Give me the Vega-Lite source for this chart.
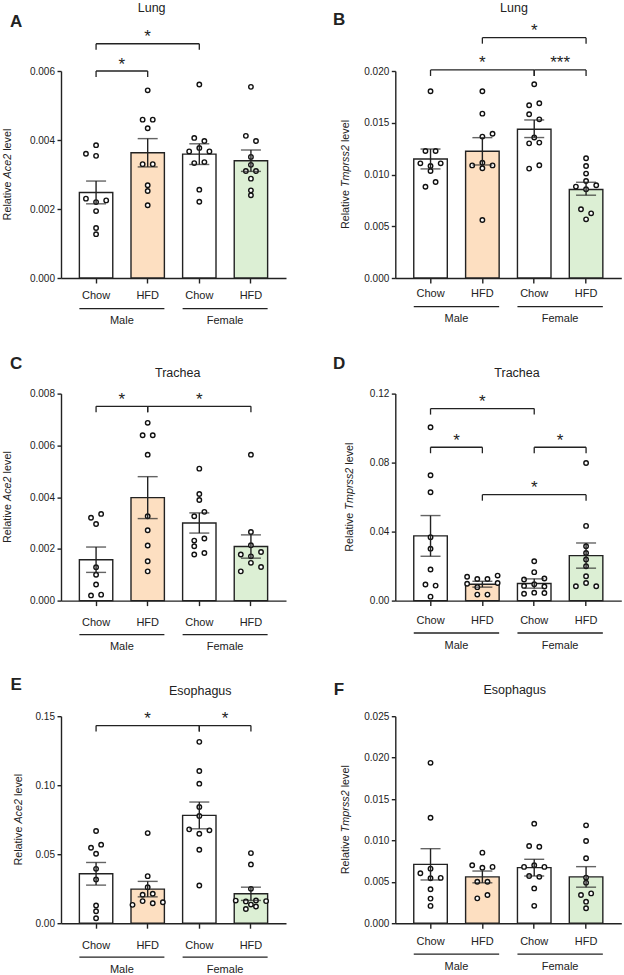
{
"$schema": "https://vega.github.io/schema/vega-lite/v6.json",
"background": "white",
"padding": {"left": 2, "top": 2, "right": 2, "bottom": 2},
"config": {
  "font": "Liberation Sans",
  "view": {"stroke": null},
  "axis": {"domainColor": "#222", "domainWidth": 1.4, "tickColor": "#222", "tickWidth": 1.4, "labelColor": "#222", "labelFont": "Liberation Sans", "grid": false},
  "axisY": {"tickSize": 4, "labelPadding": 2.5, "labelFontSize": 10},
  "axisX": {"tickSize": 5, "labelFontSize": 11, "labelAngle": 0, "labelExpr": "split(datum.label,'-')[1]"},
  "text": {"color": "#222", "font": "Liberation Sans"}
},
"datasets": {
  "labels": [
    {"p": "A", "letter": "A", "organ": "Lung", "gene": "Ace2"},
    {"p": "B", "letter": "B", "organ": "Lung", "gene": "Tmprss2"},
    {"p": "C", "letter": "C", "organ": "Trachea", "gene": "Ace2"},
    {"p": "D", "letter": "D", "organ": "Trachea", "gene": "Tmprss2"},
    {"p": "E", "letter": "E", "organ": "Esophagus", "gene": "Ace2"},
    {"p": "F", "letter": "F", "organ": "Esophagus", "gene": "Tmprss2"}
  ],
  "grp": [
    {"sex": "Male", "from": "M-Chow", "to": "M-HFD"},
    {"sex": "Female", "from": "F-Chow", "to": "F-HFD"}
  ],
  "sum": [
    {"p": "A", "g": "M-Chow", "mean": 0.00248, "lo": 0.00215, "hi": 0.00281},
    {"p": "A", "g": "M-HFD", "mean": 0.00363, "lo": 0.00322, "hi": 0.00404},
    {"p": "A", "g": "F-Chow", "mean": 0.00359, "lo": 0.00329, "hi": 0.00389},
    {"p": "A", "g": "F-HFD", "mean": 0.0034, "lo": 0.00309, "hi": 0.00371},
    {"p": "B", "g": "M-Chow", "mean": 0.0115, "lo": 0.01054, "hi": 0.01246},
    {"p": "B", "g": "M-HFD", "mean": 0.01224, "lo": 0.01092, "hi": 0.01356},
    {"p": "B", "g": "F-Chow", "mean": 0.01437, "lo": 0.01357, "hi": 0.01527},
    {"p": "B", "g": "F-HFD", "mean": 0.00855, "lo": 0.008, "hi": 0.00925},
    {"p": "C", "g": "M-Chow", "mean": 0.00158, "lo": 0.00109, "hi": 0.00207},
    {"p": "C", "g": "M-HFD", "mean": 0.00398, "lo": 0.00317, "hi": 0.00479},
    {"p": "C", "g": "F-Chow", "mean": 0.003, "lo": 0.00261, "hi": 0.00339},
    {"p": "C", "g": "F-HFD", "mean": 0.00209, "lo": 0.00164, "hi": 0.00254},
    {"p": "D", "g": "M-Chow", "mean": 0.0375, "lo": 0.0257, "hi": 0.0493},
    {"p": "D", "g": "M-HFD", "mean": 0.0095, "lo": 0.0078, "hi": 0.0112},
    {"p": "D", "g": "F-Chow", "mean": 0.0099, "lo": 0.0072, "hi": 0.0126},
    {"p": "D", "g": "F-HFD", "mean": 0.0261, "lo": 0.0188, "hi": 0.0334},
    {"p": "E", "g": "M-Chow", "mean": 0.0358, "lo": 0.0276, "hi": 0.044},
    {"p": "E", "g": "M-HFD", "mean": 0.0247, "lo": 0.0191, "hi": 0.0303},
    {"p": "E", "g": "F-Chow", "mean": 0.0781, "lo": 0.0684, "hi": 0.0878},
    {"p": "E", "g": "F-HFD", "mean": 0.0213, "lo": 0.0165, "hi": 0.0261},
    {"p": "F", "g": "M-Chow", "mean": 0.00711, "lo": 0.00522, "hi": 0.009},
    {"p": "F", "g": "M-HFD", "mean": 0.00559, "lo": 0.00488, "hi": 0.0063},
    {"p": "F", "g": "F-Chow", "mean": 0.00671, "lo": 0.0057, "hi": 0.00772},
    {"p": "F", "g": "F-HFD", "mean": 0.00559, "lo": 0.00435, "hi": 0.00683}
  ],
  "br": [
    {"p": "A", "from": "M-Chow", "to": "M-HFD", "y": 0.006, "lab": "*", "span": 1},
    {"p": "A", "from": "M-Chow", "to": "F-Chow", "y": 0.00679, "lab": "*", "span": 2},
    {"p": "B", "from": "M-Chow", "to": "F-Chow", "y": 0.0201, "lab": "*", "span": 2},
    {"p": "B", "from": "F-Chow", "to": "F-HFD", "y": 0.0201, "lab": "***", "span": 1},
    {"p": "B", "from": "M-HFD", "to": "F-HFD", "y": 0.02322, "lab": "*", "span": 2},
    {"p": "C", "from": "M-Chow", "to": "M-HFD", "y": 0.00751, "lab": "*", "span": 1},
    {"p": "C", "from": "M-HFD", "to": "F-HFD", "y": 0.00751, "lab": "*", "span": 2},
    {"p": "D", "from": "M-Chow", "to": "F-Chow", "y": 0.1113, "lab": "*", "span": 2},
    {"p": "D", "from": "M-Chow", "to": "M-HFD", "y": 0.0889, "lab": "*", "span": 1},
    {"p": "D", "from": "F-Chow", "to": "F-HFD", "y": 0.0889, "lab": "*", "span": 1},
    {"p": "D", "from": "M-HFD", "to": "F-HFD", "y": 0.0614, "lab": "*", "span": 2},
    {"p": "E", "from": "M-Chow", "to": "F-Chow", "y": 0.1432, "lab": "*", "span": 2},
    {"p": "E", "from": "F-Chow", "to": "F-HFD", "y": 0.1432, "lab": "*", "span": 1}
  ],
  "pts": [
    {"p":"A","g":"M-Chow","v":0.00385,"s":0},{"p":"A","g":"M-Chow","v":0.0036,"s":-2},{"p":"A","g":"M-Chow","v":0.00354,"s":0},{"p":"A","g":"M-Chow","v":0.0023,"s":-2},{"p":"A","g":"M-Chow","v":0.0022,"s":0},{"p":"A","g":"M-Chow","v":0.00225,"s":2},{"p":"A","g":"M-Chow","v":0.00194,"s":0},{"p":"A","g":"M-Chow","v":0.00145,"s":0},{"p":"A","g":"M-Chow","v":0.00127,"s":0},
    {"p":"A","g":"M-HFD","v":0.00544,"s":0},{"p":"A","g":"M-HFD","v":0.00459,"s":-1},{"p":"A","g":"M-HFD","v":0.00459,"s":1},{"p":"A","g":"M-HFD","v":0.00434,"s":0},{"p":"A","g":"M-HFD","v":0.0033,"s":-1},{"p":"A","g":"M-HFD","v":0.0033,"s":1},{"p":"A","g":"M-HFD","v":0.00269,"s":0},{"p":"A","g":"M-HFD","v":0.00252,"s":0},{"p":"A","g":"M-HFD","v":0.00211,"s":0},
    {"p":"A","g":"F-Chow","v":0.00561,"s":0},{"p":"A","g":"F-Chow","v":0.00406,"s":-1},{"p":"A","g":"F-Chow","v":0.00397,"s":1},{"p":"A","g":"F-Chow","v":0.00377,"s":0},{"p":"A","g":"F-Chow","v":0.00367,"s":-2},{"p":"A","g":"F-Chow","v":0.00367,"s":2},{"p":"A","g":"F-Chow","v":0.00333,"s":-1},{"p":"A","g":"F-Chow","v":0.00336,"s":1},{"p":"A","g":"F-Chow","v":0.00256,"s":0},{"p":"A","g":"F-Chow","v":0.00221,"s":0},
    {"p":"A","g":"F-HFD","v":0.00554,"s":0},{"p":"A","g":"F-HFD","v":0.00412,"s":-1},{"p":"A","g":"F-HFD","v":0.00397,"s":1},{"p":"A","g":"F-HFD","v":0.00351,"s":0},{"p":"A","g":"F-HFD","v":0.00328,"s":0},{"p":"A","g":"F-HFD","v":0.0031,"s":-1},{"p":"A","g":"F-HFD","v":0.0031,"s":1},{"p":"A","g":"F-HFD","v":0.00288,"s":0},{"p":"A","g":"F-HFD","v":0.00254,"s":0},{"p":"A","g":"F-HFD","v":0.0024,"s":0},
    {"p":"B","g":"M-Chow","v":0.01804,"s":0},{"p":"B","g":"M-Chow","v":0.01227,"s":-1},{"p":"B","g":"M-Chow","v":0.01227,"s":1},{"p":"B","g":"M-Chow","v":0.01108,"s":-2},{"p":"B","g":"M-Chow","v":0.01082,"s":0},{"p":"B","g":"M-Chow","v":0.01108,"s":2},{"p":"B","g":"M-Chow","v":0.01034,"s":0},{"p":"B","g":"M-Chow","v":0.00882,"s":-1},{"p":"B","g":"M-Chow","v":0.00928,"s":1},
    {"p":"B","g":"M-HFD","v":0.01804,"s":0},{"p":"B","g":"M-HFD","v":0.01588,"s":0},{"p":"B","g":"M-HFD","v":0.01366,"s":0},{"p":"B","g":"M-HFD","v":0.01394,"s":2},{"p":"B","g":"M-HFD","v":0.01088,"s":-2},{"p":"B","g":"M-HFD","v":0.01114,"s":0},{"p":"B","g":"M-HFD","v":0.01088,"s":2},{"p":"B","g":"M-HFD","v":0.0106,"s":0},{"p":"B","g":"M-HFD","v":0.0056,"s":0},
    {"p":"B","g":"F-Chow","v":0.01872,"s":0},{"p":"B","g":"F-Chow","v":0.01669,"s":-1},{"p":"B","g":"F-Chow","v":0.01688,"s":1},{"p":"B","g":"F-Chow","v":0.01582,"s":-1},{"p":"B","g":"F-Chow","v":0.01533,"s":1},{"p":"B","g":"F-Chow","v":0.01357,"s":0},{"p":"B","g":"F-Chow","v":0.01301,"s":-1},{"p":"B","g":"F-Chow","v":0.01308,"s":1},{"p":"B","g":"F-Chow","v":0.01057,"s":-1},{"p":"B","g":"F-Chow","v":0.01089,"s":1},
    {"p":"B","g":"F-HFD","v":0.01157,"s":0},{"p":"B","g":"F-HFD","v":0.01082,"s":0},{"p":"B","g":"F-HFD","v":0.01009,"s":0},{"p":"B","g":"F-HFD","v":0.00937,"s":0},{"p":"B","g":"F-HFD","v":0.00883,"s":-2},{"p":"B","g":"F-HFD","v":0.00857,"s":0},{"p":"B","g":"F-HFD","v":0.00896,"s":2},{"p":"B","g":"F-HFD","v":0.00664,"s":-1},{"p":"B","g":"F-HFD","v":0.00625,"s":1},{"p":"B","g":"F-HFD","v":0.00567,"s":0},
    {"p":"C","g":"M-Chow","v":0.0032,"s":-1},{"p":"C","g":"M-Chow","v":0.00335,"s":1},{"p":"C","g":"M-Chow","v":0.00296,"s":0},{"p":"C","g":"M-Chow","v":0.00129,"s":0},{"p":"C","g":"M-Chow","v":0.001,"s":0},{"p":"C","g":"M-Chow","v":0.00062,"s":0},{"p":"C","g":"M-Chow","v":0.0002,"s":-1},{"p":"C","g":"M-Chow","v":0.00023,"s":1},
    {"p":"C","g":"M-HFD","v":0.00687,"s":0},{"p":"C","g":"M-HFD","v":0.00639,"s":-1},{"p":"C","g":"M-HFD","v":0.00639,"s":1},{"p":"C","g":"M-HFD","v":0.00564,"s":0},{"p":"C","g":"M-HFD","v":0.00326,"s":0},{"p":"C","g":"M-HFD","v":0.00272,"s":0},{"p":"C","g":"M-HFD","v":0.00213,"s":0},{"p":"C","g":"M-HFD","v":0.00152,"s":0},{"p":"C","g":"M-HFD","v":0.00113,"s":0},
    {"p":"C","g":"F-Chow","v":0.0051,"s":0},{"p":"C","g":"F-Chow","v":0.00412,"s":0},{"p":"C","g":"F-Chow","v":0.00389,"s":0},{"p":"C","g":"F-Chow","v":0.00326,"s":-1},{"p":"C","g":"F-Chow","v":0.00343,"s":1},{"p":"C","g":"F-Chow","v":0.00232,"s":-1},{"p":"C","g":"F-Chow","v":0.0024,"s":1},{"p":"C","g":"F-Chow","v":0.0021,"s":-1},{"p":"C","g":"F-Chow","v":0.00178,"s":-1},{"p":"C","g":"F-Chow","v":0.00184,"s":1},
    {"p":"C","g":"F-HFD","v":0.00564,"s":0},{"p":"C","g":"F-HFD","v":0.00265,"s":0},{"p":"C","g":"F-HFD","v":0.00214,"s":0},{"p":"C","g":"F-HFD","v":0.00178,"s":-2},{"p":"C","g":"F-HFD","v":0.00171,"s":0},{"p":"C","g":"F-HFD","v":0.00188,"s":2},{"p":"C","g":"F-HFD","v":0.00146,"s":0},{"p":"C","g":"F-HFD","v":0.00113,"s":-2},{"p":"C","g":"F-HFD","v":0.0013,"s":2},
    {"p":"D","g":"M-Chow","v":0.1005,"s":0},{"p":"D","g":"M-Chow","v":0.0727,"s":0},{"p":"D","g":"M-Chow","v":0.0628,"s":0},{"p":"D","g":"M-Chow","v":0.0367,"s":0},{"p":"D","g":"M-Chow","v":0.0301,"s":0},{"p":"D","g":"M-Chow","v":0.018,"s":0},{"p":"D","g":"M-Chow","v":0.0093,"s":-1},{"p":"D","g":"M-Chow","v":0.0087,"s":1},{"p":"D","g":"M-Chow","v":0.0023,"s":0},
    {"p":"D","g":"M-HFD","v":0.0138,"s":-3},{"p":"D","g":"M-HFD","v":0.0125,"s":-1},{"p":"D","g":"M-HFD","v":0.0125,"s":1},{"p":"D","g":"M-HFD","v":0.0145,"s":3},{"p":"D","g":"M-HFD","v":0.0098,"s":-3},{"p":"D","g":"M-HFD","v":0.0102,"s":3},{"p":"D","g":"M-HFD","v":0.0078,"s":-1},{"p":"D","g":"M-HFD","v":0.0035,"s":-1},{"p":"D","g":"M-HFD","v":0.0035,"s":1},
    {"p":"D","g":"F-Chow","v":0.0228,"s":0},{"p":"D","g":"F-Chow","v":0.0165,"s":0},{"p":"D","g":"F-Chow","v":0.0122,"s":-2},{"p":"D","g":"F-Chow","v":0.0128,"s":2},{"p":"D","g":"F-Chow","v":0.0095,"s":0},{"p":"D","g":"F-Chow","v":0.0085,"s":-2},{"p":"D","g":"F-Chow","v":0.0082,"s":2},{"p":"D","g":"F-Chow","v":0.004,"s":-2},{"p":"D","g":"F-Chow","v":0.0046,"s":0},{"p":"D","g":"F-Chow","v":0.0044,"s":2},
    {"p":"D","g":"F-HFD","v":0.0798,"s":0},{"p":"D","g":"F-HFD","v":0.0433,"s":0},{"p":"D","g":"F-HFD","v":0.0315,"s":0},{"p":"D","g":"F-HFD","v":0.0276,"s":0},{"p":"D","g":"F-HFD","v":0.0238,"s":0},{"p":"D","g":"F-HFD","v":0.0199,"s":0},{"p":"D","g":"F-HFD","v":0.0141,"s":0},{"p":"D","g":"F-HFD","v":0.0102,"s":0},{"p":"D","g":"F-HFD","v":0.0083,"s":-2},{"p":"D","g":"F-HFD","v":0.0083,"s":2},
    {"p":"E","g":"M-Chow","v":0.0668,"s":0},{"p":"E","g":"M-Chow","v":0.0547,"s":-1},{"p":"E","g":"M-Chow","v":0.0569,"s":1},{"p":"E","g":"M-Chow","v":0.0503,"s":0},{"p":"E","g":"M-Chow","v":0.0394,"s":0},{"p":"E","g":"M-Chow","v":0.0317,"s":0},{"p":"E","g":"M-Chow","v":0.0128,"s":0},{"p":"E","g":"M-Chow","v":0.0087,"s":0},{"p":"E","g":"M-Chow","v":0.0036,"s":0},
    {"p":"E","g":"M-HFD","v":0.0653,"s":0},{"p":"E","g":"M-HFD","v":0.0341,"s":0},{"p":"E","g":"M-HFD","v":0.0261,"s":0},{"p":"E","g":"M-HFD","v":0.0206,"s":-1},{"p":"E","g":"M-HFD","v":0.0213,"s":1},{"p":"E","g":"M-HFD","v":0.0133,"s":-3},{"p":"E","g":"M-HFD","v":0.016,"s":-1},{"p":"E","g":"M-HFD","v":0.0145,"s":1},{"p":"E","g":"M-HFD","v":0.0152,"s":3},
    {"p":"E","g":"F-Chow","v":0.1314,"s":0},{"p":"E","g":"F-Chow","v":0.1103,"s":0},{"p":"E","g":"F-Chow","v":0.1011,"s":0},{"p":"E","g":"F-Chow","v":0.0842,"s":0},{"p":"E","g":"F-Chow","v":0.0777,"s":0},{"p":"E","g":"F-Chow","v":0.068,"s":-2},{"p":"E","g":"F-Chow","v":0.0673,"s":2},{"p":"E","g":"F-Chow","v":0.0648,"s":0},{"p":"E","g":"F-Chow","v":0.0532,"s":0},{"p":"E","g":"F-Chow","v":0.0273,"s":0},
    {"p":"E","g":"F-HFD","v":0.0508,"s":0},{"p":"E","g":"F-HFD","v":0.0426,"s":0},{"p":"E","g":"F-HFD","v":0.0249,"s":0},{"p":"E","g":"F-HFD","v":0.0164,"s":-3},{"p":"E","g":"F-HFD","v":0.0158,"s":-1},{"p":"E","g":"F-HFD","v":0.0165,"s":1},{"p":"E","g":"F-HFD","v":0.016,"s":3},{"p":"E","g":"F-HFD","v":0.0135,"s":0},{"p":"E","g":"F-HFD","v":0.0103,"s":-1},{"p":"E","g":"F-HFD","v":0.0121,"s":1},
    {"p":"F","g":"M-Chow","v":0.01937,"s":0},{"p":"F","g":"M-Chow","v":0.01274,"s":0},{"p":"F","g":"M-Chow","v":0.00603,"s":-2},{"p":"F","g":"M-Chow","v":0.00659,"s":0},{"p":"F","g":"M-Chow","v":0.00543,"s":0},{"p":"F","g":"M-Chow","v":0.00547,"s":2},{"p":"F","g":"M-Chow","v":0.0041,"s":0},{"p":"F","g":"M-Chow","v":0.00297,"s":0},{"p":"F","g":"M-Chow","v":0.00209,"s":0},
    {"p":"F","g":"M-HFD","v":0.00852,"s":0},{"p":"F","g":"M-HFD","v":0.007,"s":-2},{"p":"F","g":"M-HFD","v":0.0067,"s":0},{"p":"F","g":"M-HFD","v":0.0068,"s":2},{"p":"F","g":"M-HFD","v":0.005,"s":-1},{"p":"F","g":"M-HFD","v":0.005,"s":1},{"p":"F","g":"M-HFD","v":0.003,"s":-1},{"p":"F","g":"M-HFD","v":0.0034,"s":1},
    {"p":"F","g":"F-Chow","v":0.01202,"s":0},{"p":"F","g":"F-Chow","v":0.00932,"s":-1},{"p":"F","g":"F-Chow","v":0.00924,"s":1},{"p":"F","g":"F-Chow","v":0.0068,"s":-2},{"p":"F","g":"F-Chow","v":0.007,"s":0},{"p":"F","g":"F-Chow","v":0.0068,"s":2},{"p":"F","g":"F-Chow","v":0.0057,"s":-1},{"p":"F","g":"F-Chow","v":0.0056,"s":1},{"p":"F","g":"F-Chow","v":0.0042,"s":0},{"p":"F","g":"F-Chow","v":0.0021,"s":0},
    {"p":"F","g":"F-HFD","v":0.01182,"s":0},{"p":"F","g":"F-HFD","v":0.00993,"s":0},{"p":"F","g":"F-HFD","v":0.00784,"s":0},{"p":"F","g":"F-HFD","v":0.00551,"s":0},{"p":"F","g":"F-HFD","v":0.0049,"s":0},{"p":"F","g":"F-HFD","v":0.0034,"s":-1},{"p":"F","g":"F-HFD","v":0.0036,"s":1},{"p":"F","g":"F-HFD","v":0.0026,"s":0},{"p":"F","g":"F-HFD","v":0.0018,"s":0}
  ]
},
"columns": 2,
"bounds": "flush",
"spacing": {"row": 115.6, "column": 109.3},
"concat": [
{
 "width": 225, "height": 207,
 "resolve": {"scale": {"xOffset": "independent"}},
 "layer": [
  {"data": {"name": "sum"}, "transform": [{"filter": "datum.p == 'A'"}],
   "mark": {"type": "bar", "stroke": "#222", "strokeWidth": 1.4},
   "encoding": {
     "x": {"field": "g", "type": "nominal", "scale": {"domain": ["M-Chow","M-HFD","F-Chow","F-HFD"], "paddingInner": 0.353, "paddingOuter": 0.356}, "axis": {"title": null, "labelPadding": 6.9}},
     "y": {"field": "mean", "type": "quantitative", "scale": {"domain": [0, 0.006], "nice": false}, "axis": {"title": null, "values": [0, 0.002, 0.004, 0.006], "format": ".3f"}},
     "fill": {"field": "g", "type": "nominal", "scale": {"domain": ["M-Chow","M-HFD","F-Chow","F-HFD"], "range": ["#ffffff","#fddfc1","#ffffff","#dcefd4"]}, "legend": null}
   }},
  {"data": {"name": "pts"}, "transform": [{"filter": "datum.p == 'A'"}],
   "mark": {"type": "point", "shape": "circle", "filled": true, "fill": "#ffffff", "stroke": "#111", "strokeWidth": 1.4, "size": 20, "opacity": 1},
   "encoding": {"x": {"field": "g", "type": "nominal"}, "xOffset": {"field": "s", "type": "quantitative", "scale": {"domain": [-3.3, 3.3]}}, "y": {"field": "v", "type": "quantitative"}}},
  {"data": {"name": "sum"}, "transform": [{"filter": "datum.p == 'A'"}],
   "mark": {"type": "rule", "stroke": "#222", "strokeWidth": 1.4},
   "encoding": {"x": {"field": "g", "type": "nominal"}, "y": {"field": "lo", "type": "quantitative"}, "y2": {"field": "hi"}}},
  {"data": {"name": "sum"}, "transform": [{"filter": "datum.p == 'A'"}],
   "mark": {"type": "tick", "color": "#222", "size": 20, "thickness": 1.4},
   "encoding": {"x": {"field": "g", "type": "nominal"}, "y": {"field": "hi", "type": "quantitative"}}},
  {"data": {"name": "sum"}, "transform": [{"filter": "datum.p == 'A'"}],
   "mark": {"type": "tick", "color": "#222", "size": 20, "thickness": 1.4},
   "encoding": {"x": {"field": "g", "type": "nominal"}, "y": {"field": "lo", "type": "quantitative"}}},
  {"data": {"name": "br"}, "transform": [{"filter": "datum.p == 'A'"}],
   "mark": {"type": "rule", "stroke": "#222", "strokeWidth": 1.3},
   "encoding": {"x": {"field": "from", "type": "nominal"}, "x2": {"field": "to"}, "y": {"field": "y", "type": "quantitative"}}},
  {"data": {"name": "br"}, "transform": [{"filter": "datum.p == 'A'"}],
   "mark": {"type": "rule", "stroke": "#222", "strokeWidth": 1.3, "y2Offset": 6},
   "encoding": {"x": {"field": "from", "type": "nominal"}, "y": {"field": "y", "type": "quantitative"}, "y2": {"field": "y"}}},
  {"data": {"name": "br"}, "transform": [{"filter": "datum.p == 'A'"}],
   "mark": {"type": "rule", "stroke": "#222", "strokeWidth": 1.3, "y2Offset": 6},
   "encoding": {"x": {"field": "to", "type": "nominal"}, "y": {"field": "y", "type": "quantitative"}, "y2": {"field": "y"}}},
  {"data": {"name": "br"}, "transform": [{"filter": "datum.p == 'A'"}],
   "mark": {"type": "text", "fontSize": 17, "baseline": "alphabetic", "align": "center", "yOffset": -1.5},
   "encoding": {"x": {"field": "from", "type": "nominal"}, "xOffset": {"field": "span", "type": "quantitative", "scale": {"domain": [0, 3], "range": [16.7, 94.1]}}, "y": {"field": "y", "type": "quantitative"}, "text": {"field": "lab"}}},
  {"data": {"name": "grp"},
   "mark": {"type": "rule", "stroke": "#222", "strokeWidth": 1.3, "yOffset": 30.6},
   "encoding": {"x": {"field": "from", "type": "nominal", "bandPosition": 0}, "x2": {"field": "to", "bandPosition": 1}, "y": {"datum": 0, "type": "quantitative"}}},
  {"data": {"name": "grp"},
   "mark": {"type": "text", "fontSize": 11, "baseline": "middle", "align": "center", "xOffset": 25.8, "yOffset": 43},
   "encoding": {"x": {"field": "from", "type": "nominal"}, "y": {"datum": 0, "type": "quantitative"}, "text": {"field": "sex"}}},
  {"data": {"name": "labels"}, "transform": [{"filter": "datum.p == 'A'"}],
   "mark": {"type": "text", "fontSize": 17, "fontWeight": "bold", "baseline": "middle", "align": "center", "xOffset": -80, "yOffset": -49},
   "encoding": {"x": {"datum": "M-Chow", "type": "nominal"}, "y": {"datum": 0.006, "type": "quantitative"}, "text": {"field": "letter"}}},
  {"data": {"name": "labels"}, "transform": [{"filter": "datum.p == 'A'"}],
   "mark": {"type": "text", "fontSize": 12.5, "baseline": "middle", "align": "center", "xOffset": 55.6, "yOffset": -63},
   "encoding": {"x": {"datum": "M-Chow", "type": "nominal"}, "y": {"datum": 0.006, "type": "quantitative"}, "text": {"field": "organ"}}},
  {"data": {"name": "labels"}, "transform": [{"filter": "datum.p == 'A'"}],
   "mark": {"type": "text", "fontSize": 10.8, "angle": 270, "baseline": "middle", "align": "left", "xOffset": -87.8, "yOffset": 45.9, "text": "Relative"},
   "encoding": {"x": {"datum": "M-Chow", "type": "nominal"}, "y": {"datum": 0.003, "type": "quantitative"}}},
  {"data": {"name": "labels"}, "transform": [{"filter": "datum.p == 'A'"}],
   "mark": {"type": "text", "fontSize": 10.8, "fontStyle": "italic", "angle": 270, "baseline": "middle", "align": "left", "xOffset": -87.8, "yOffset": 3.9},
   "encoding": {"x": {"datum": "M-Chow", "type": "nominal"}, "y": {"datum": 0.003, "type": "quantitative"}, "text": {"field": "gene"}}},
  {"data": {"name": "labels"}, "transform": [{"filter": "datum.p == 'A'"}],
   "mark": {"type": "text", "fontSize": 10.8, "angle": 270, "baseline": "middle", "align": "left", "xOffset": -87.8, "yOffset": -23.7, "text": "level"},
   "encoding": {"x": {"datum": "M-Chow", "type": "nominal"}, "y": {"datum": 0.003, "type": "quantitative"}}}
 ]
},
{
 "width": 226, "height": 207,
 "resolve": {"scale": {"xOffset": "independent"}},
 "layer": [
  {"data": {"name": "sum"}, "transform": [{"filter": "datum.p == 'B'"}],
   "mark": {"type": "bar", "stroke": "#222", "strokeWidth": 1.4},
   "encoding": {
     "x": {"field": "g", "type": "nominal", "scale": {"domain": ["M-Chow","M-HFD","F-Chow","F-HFD"], "paddingInner": 0.353, "paddingOuter": 0.356}, "axis": {"title": null, "labelPadding": 4.9}},
     "y": {"field": "mean", "type": "quantitative", "scale": {"domain": [0, 0.02], "nice": false}, "axis": {"title": null, "values": [0, 0.005, 0.01, 0.015, 0.02], "format": ".3f"}},
     "fill": {"field": "g", "type": "nominal", "scale": {"domain": ["M-Chow","M-HFD","F-Chow","F-HFD"], "range": ["#ffffff","#fddfc1","#ffffff","#dcefd4"]}, "legend": null}
   }},
  {"data": {"name": "pts"}, "transform": [{"filter": "datum.p == 'B'"}],
   "mark": {"type": "point", "shape": "circle", "filled": true, "fill": "#ffffff", "stroke": "#111", "strokeWidth": 1.4, "size": 20, "opacity": 1},
   "encoding": {"x": {"field": "g", "type": "nominal"}, "xOffset": {"field": "s", "type": "quantitative", "scale": {"domain": [-3.3, 3.3]}}, "y": {"field": "v", "type": "quantitative"}}},
  {"data": {"name": "sum"}, "transform": [{"filter": "datum.p == 'B'"}],
   "mark": {"type": "rule", "stroke": "#222", "strokeWidth": 1.4},
   "encoding": {"x": {"field": "g", "type": "nominal"}, "y": {"field": "lo", "type": "quantitative"}, "y2": {"field": "hi"}}},
  {"data": {"name": "sum"}, "transform": [{"filter": "datum.p == 'B'"}],
   "mark": {"type": "tick", "color": "#222", "size": 20, "thickness": 1.4},
   "encoding": {"x": {"field": "g", "type": "nominal"}, "y": {"field": "hi", "type": "quantitative"}}},
  {"data": {"name": "sum"}, "transform": [{"filter": "datum.p == 'B'"}],
   "mark": {"type": "tick", "color": "#222", "size": 20, "thickness": 1.4},
   "encoding": {"x": {"field": "g", "type": "nominal"}, "y": {"field": "lo", "type": "quantitative"}}},
  {"data": {"name": "br"}, "transform": [{"filter": "datum.p == 'B'"}],
   "mark": {"type": "rule", "stroke": "#222", "strokeWidth": 1.3},
   "encoding": {"x": {"field": "from", "type": "nominal"}, "x2": {"field": "to"}, "y": {"field": "y", "type": "quantitative"}}},
  {"data": {"name": "br"}, "transform": [{"filter": "datum.p == 'B'"}],
   "mark": {"type": "rule", "stroke": "#222", "strokeWidth": 1.3, "y2Offset": 6},
   "encoding": {"x": {"field": "from", "type": "nominal"}, "y": {"field": "y", "type": "quantitative"}, "y2": {"field": "y"}}},
  {"data": {"name": "br"}, "transform": [{"filter": "datum.p == 'B'"}],
   "mark": {"type": "rule", "stroke": "#222", "strokeWidth": 1.3, "y2Offset": 6},
   "encoding": {"x": {"field": "to", "type": "nominal"}, "y": {"field": "y", "type": "quantitative"}, "y2": {"field": "y"}}},
  {"data": {"name": "br"}, "transform": [{"filter": "datum.p == 'B'"}],
   "mark": {"type": "text", "fontSize": 17, "baseline": "alphabetic", "align": "center", "yOffset": -1.5},
   "encoding": {"x": {"field": "from", "type": "nominal"}, "xOffset": {"field": "span", "type": "quantitative", "scale": {"domain": [0, 3], "range": [16.8, 94.5]}}, "y": {"field": "y", "type": "quantitative"}, "text": {"field": "lab"}}},
  {"data": {"name": "grp"},
   "mark": {"type": "rule", "stroke": "#222", "strokeWidth": 1.3, "yOffset": 28.6},
   "encoding": {"x": {"field": "from", "type": "nominal", "bandPosition": 0}, "x2": {"field": "to", "bandPosition": 1}, "y": {"datum": 0, "type": "quantitative"}}},
  {"data": {"name": "grp"},
   "mark": {"type": "text", "fontSize": 11, "baseline": "middle", "align": "center", "xOffset": 25.9, "yOffset": 41},
   "encoding": {"x": {"field": "from", "type": "nominal"}, "y": {"datum": 0, "type": "quantitative"}, "text": {"field": "sex"}}},
  {"data": {"name": "labels"}, "transform": [{"filter": "datum.p == 'B'"}],
   "mark": {"type": "text", "fontSize": 17, "fontWeight": "bold", "baseline": "middle", "align": "center", "xOffset": -91.5, "yOffset": -51},
   "encoding": {"x": {"datum": "M-Chow", "type": "nominal"}, "y": {"datum": 0.02, "type": "quantitative"}, "text": {"field": "letter"}}},
  {"data": {"name": "labels"}, "transform": [{"filter": "datum.p == 'B'"}],
   "mark": {"type": "text", "fontSize": 12.5, "baseline": "middle", "align": "center", "xOffset": 83.5, "yOffset": -62.7},
   "encoding": {"x": {"datum": "M-Chow", "type": "nominal"}, "y": {"datum": 0.02, "type": "quantitative"}, "text": {"field": "organ"}}},
  {"data": {"name": "labels"}, "transform": [{"filter": "datum.p == 'B'"}],
   "mark": {"type": "text", "fontSize": 10.8, "angle": 270, "baseline": "middle", "align": "left", "xOffset": -84.2, "yOffset": 54.6, "text": "Relative"},
   "encoding": {"x": {"datum": "M-Chow", "type": "nominal"}, "y": {"datum": 0.01, "type": "quantitative"}}},
  {"data": {"name": "labels"}, "transform": [{"filter": "datum.p == 'B'"}],
   "mark": {"type": "text", "fontSize": 10.8, "fontStyle": "italic", "angle": 270, "baseline": "middle", "align": "left", "xOffset": -84.2, "yOffset": 12.6},
   "encoding": {"x": {"datum": "M-Chow", "type": "nominal"}, "y": {"datum": 0.01, "type": "quantitative"}, "text": {"field": "gene"}}},
  {"data": {"name": "labels"}, "transform": [{"filter": "datum.p == 'B'"}],
   "mark": {"type": "text", "fontSize": 10.8, "angle": 270, "baseline": "middle", "align": "left", "xOffset": -84.2, "yOffset": -32.4, "text": "level"},
   "encoding": {"x": {"datum": "M-Chow", "type": "nominal"}, "y": {"datum": 0.01, "type": "quantitative"}}}
 ]
},
{
 "width": 225, "height": 207,
 "resolve": {"scale": {"xOffset": "independent"}},
 "layer": [
  {"data": {"name": "sum"}, "transform": [{"filter": "datum.p == 'C'"}],
   "mark": {"type": "bar", "stroke": "#222", "strokeWidth": 1.4},
   "encoding": {
     "x": {"field": "g", "type": "nominal", "scale": {"domain": ["M-Chow","M-HFD","F-Chow","F-HFD"], "paddingInner": 0.353, "paddingOuter": 0.356}, "axis": {"title": null, "labelPadding": 11}},
     "y": {"field": "mean", "type": "quantitative", "scale": {"domain": [0, 0.008], "nice": false}, "axis": {"title": null, "values": [0, 0.002, 0.004, 0.006, 0.008], "format": ".3f"}},
     "fill": {"field": "g", "type": "nominal", "scale": {"domain": ["M-Chow","M-HFD","F-Chow","F-HFD"], "range": ["#ffffff","#fddfc1","#ffffff","#dcefd4"]}, "legend": null}
   }},
  {"data": {"name": "pts"}, "transform": [{"filter": "datum.p == 'C'"}],
   "mark": {"type": "point", "shape": "circle", "filled": true, "fill": "#ffffff", "stroke": "#111", "strokeWidth": 1.4, "size": 20, "opacity": 1},
   "encoding": {"x": {"field": "g", "type": "nominal"}, "xOffset": {"field": "s", "type": "quantitative", "scale": {"domain": [-3.3, 3.3]}}, "y": {"field": "v", "type": "quantitative"}}},
  {"data": {"name": "sum"}, "transform": [{"filter": "datum.p == 'C'"}],
   "mark": {"type": "rule", "stroke": "#222", "strokeWidth": 1.4},
   "encoding": {"x": {"field": "g", "type": "nominal"}, "y": {"field": "lo", "type": "quantitative"}, "y2": {"field": "hi"}}},
  {"data": {"name": "sum"}, "transform": [{"filter": "datum.p == 'C'"}],
   "mark": {"type": "tick", "color": "#222", "size": 20, "thickness": 1.4},
   "encoding": {"x": {"field": "g", "type": "nominal"}, "y": {"field": "hi", "type": "quantitative"}}},
  {"data": {"name": "sum"}, "transform": [{"filter": "datum.p == 'C'"}],
   "mark": {"type": "tick", "color": "#222", "size": 20, "thickness": 1.4},
   "encoding": {"x": {"field": "g", "type": "nominal"}, "y": {"field": "lo", "type": "quantitative"}}},
  {"data": {"name": "br"}, "transform": [{"filter": "datum.p == 'C'"}],
   "mark": {"type": "rule", "stroke": "#222", "strokeWidth": 1.3},
   "encoding": {"x": {"field": "from", "type": "nominal"}, "x2": {"field": "to"}, "y": {"field": "y", "type": "quantitative"}}},
  {"data": {"name": "br"}, "transform": [{"filter": "datum.p == 'C'"}],
   "mark": {"type": "rule", "stroke": "#222", "strokeWidth": 1.3, "y2Offset": 6},
   "encoding": {"x": {"field": "from", "type": "nominal"}, "y": {"field": "y", "type": "quantitative"}, "y2": {"field": "y"}}},
  {"data": {"name": "br"}, "transform": [{"filter": "datum.p == 'C'"}],
   "mark": {"type": "rule", "stroke": "#222", "strokeWidth": 1.3, "y2Offset": 6},
   "encoding": {"x": {"field": "to", "type": "nominal"}, "y": {"field": "y", "type": "quantitative"}, "y2": {"field": "y"}}},
  {"data": {"name": "br"}, "transform": [{"filter": "datum.p == 'C'"}],
   "mark": {"type": "text", "fontSize": 17, "baseline": "alphabetic", "align": "center", "yOffset": -1.5},
   "encoding": {"x": {"field": "from", "type": "nominal"}, "xOffset": {"field": "span", "type": "quantitative", "scale": {"domain": [0, 3], "range": [16.7, 94.1]}}, "y": {"field": "y", "type": "quantitative"}, "text": {"field": "lab"}}},
  {"data": {"name": "grp"},
   "mark": {"type": "rule", "stroke": "#222", "strokeWidth": 1.3, "yOffset": 34},
   "encoding": {"x": {"field": "from", "type": "nominal", "bandPosition": 0}, "x2": {"field": "to", "bandPosition": 1}, "y": {"datum": 0, "type": "quantitative"}}},
  {"data": {"name": "grp"},
   "mark": {"type": "text", "fontSize": 11, "baseline": "middle", "align": "center", "xOffset": 25.8, "yOffset": 46.5},
   "encoding": {"x": {"field": "from", "type": "nominal"}, "y": {"datum": 0, "type": "quantitative"}, "text": {"field": "sex"}}},
  {"data": {"name": "labels"}, "transform": [{"filter": "datum.p == 'C'"}],
   "mark": {"type": "text", "fontSize": 17, "fontWeight": "bold", "baseline": "middle", "align": "center", "xOffset": -80, "yOffset": -30},
   "encoding": {"x": {"datum": "M-Chow", "type": "nominal"}, "y": {"datum": 0.008, "type": "quantitative"}, "text": {"field": "letter"}}},
  {"data": {"name": "labels"}, "transform": [{"filter": "datum.p == 'C'"}],
   "mark": {"type": "text", "fontSize": 12.5, "baseline": "middle", "align": "center", "xOffset": 81.6, "yOffset": -20.7},
   "encoding": {"x": {"datum": "M-Chow", "type": "nominal"}, "y": {"datum": 0.008, "type": "quantitative"}, "text": {"field": "organ"}}},
  {"data": {"name": "labels"}, "transform": [{"filter": "datum.p == 'C'"}],
   "mark": {"type": "text", "fontSize": 10.8, "angle": 270, "baseline": "middle", "align": "left", "xOffset": -87.8, "yOffset": 45.9, "text": "Relative"},
   "encoding": {"x": {"datum": "M-Chow", "type": "nominal"}, "y": {"datum": 0.004, "type": "quantitative"}}},
  {"data": {"name": "labels"}, "transform": [{"filter": "datum.p == 'C'"}],
   "mark": {"type": "text", "fontSize": 10.8, "fontStyle": "italic", "angle": 270, "baseline": "middle", "align": "left", "xOffset": -87.8, "yOffset": 3.9},
   "encoding": {"x": {"datum": "M-Chow", "type": "nominal"}, "y": {"datum": 0.004, "type": "quantitative"}, "text": {"field": "gene"}}},
  {"data": {"name": "labels"}, "transform": [{"filter": "datum.p == 'C'"}],
   "mark": {"type": "text", "fontSize": 10.8, "angle": 270, "baseline": "middle", "align": "left", "xOffset": -87.8, "yOffset": -23.7, "text": "level"},
   "encoding": {"x": {"datum": "M-Chow", "type": "nominal"}, "y": {"datum": 0.004, "type": "quantitative"}}}
 ]
},
{
 "width": 226, "height": 207,
 "resolve": {"scale": {"xOffset": "independent"}},
 "layer": [
  {"data": {"name": "sum"}, "transform": [{"filter": "datum.p == 'D'"}],
   "mark": {"type": "bar", "stroke": "#222", "strokeWidth": 1.4},
   "encoding": {
     "x": {"field": "g", "type": "nominal", "scale": {"domain": ["M-Chow","M-HFD","F-Chow","F-HFD"], "paddingInner": 0.353, "paddingOuter": 0.356}, "axis": {"title": null, "labelPadding": 8.7}},
     "y": {"field": "mean", "type": "quantitative", "scale": {"domain": [0, 0.12], "nice": false}, "axis": {"title": null, "values": [0, 0.04, 0.08, 0.12], "format": ".2f"}},
     "fill": {"field": "g", "type": "nominal", "scale": {"domain": ["M-Chow","M-HFD","F-Chow","F-HFD"], "range": ["#ffffff","#fddfc1","#ffffff","#dcefd4"]}, "legend": null}
   }},
  {"data": {"name": "pts"}, "transform": [{"filter": "datum.p == 'D'"}],
   "mark": {"type": "point", "shape": "circle", "filled": true, "fill": "#ffffff", "stroke": "#111", "strokeWidth": 1.4, "size": 20, "opacity": 1},
   "encoding": {"x": {"field": "g", "type": "nominal"}, "xOffset": {"field": "s", "type": "quantitative", "scale": {"domain": [-3.3, 3.3]}}, "y": {"field": "v", "type": "quantitative"}}},
  {"data": {"name": "sum"}, "transform": [{"filter": "datum.p == 'D'"}],
   "mark": {"type": "rule", "stroke": "#222", "strokeWidth": 1.4},
   "encoding": {"x": {"field": "g", "type": "nominal"}, "y": {"field": "lo", "type": "quantitative"}, "y2": {"field": "hi"}}},
  {"data": {"name": "sum"}, "transform": [{"filter": "datum.p == 'D'"}],
   "mark": {"type": "tick", "color": "#222", "size": 20, "thickness": 1.4},
   "encoding": {"x": {"field": "g", "type": "nominal"}, "y": {"field": "hi", "type": "quantitative"}}},
  {"data": {"name": "sum"}, "transform": [{"filter": "datum.p == 'D'"}],
   "mark": {"type": "tick", "color": "#222", "size": 20, "thickness": 1.4},
   "encoding": {"x": {"field": "g", "type": "nominal"}, "y": {"field": "lo", "type": "quantitative"}}},
  {"data": {"name": "br"}, "transform": [{"filter": "datum.p == 'D'"}],
   "mark": {"type": "rule", "stroke": "#222", "strokeWidth": 1.3},
   "encoding": {"x": {"field": "from", "type": "nominal"}, "x2": {"field": "to"}, "y": {"field": "y", "type": "quantitative"}}},
  {"data": {"name": "br"}, "transform": [{"filter": "datum.p == 'D'"}],
   "mark": {"type": "rule", "stroke": "#222", "strokeWidth": 1.3, "y2Offset": 6},
   "encoding": {"x": {"field": "from", "type": "nominal"}, "y": {"field": "y", "type": "quantitative"}, "y2": {"field": "y"}}},
  {"data": {"name": "br"}, "transform": [{"filter": "datum.p == 'D'"}],
   "mark": {"type": "rule", "stroke": "#222", "strokeWidth": 1.3, "y2Offset": 6},
   "encoding": {"x": {"field": "to", "type": "nominal"}, "y": {"field": "y", "type": "quantitative"}, "y2": {"field": "y"}}},
  {"data": {"name": "br"}, "transform": [{"filter": "datum.p == 'D'"}],
   "mark": {"type": "text", "fontSize": 17, "baseline": "alphabetic", "align": "center", "yOffset": -1.5},
   "encoding": {"x": {"field": "from", "type": "nominal"}, "xOffset": {"field": "span", "type": "quantitative", "scale": {"domain": [0, 3], "range": [16.8, 94.5]}}, "y": {"field": "y", "type": "quantitative"}, "text": {"field": "lab"}}},
  {"data": {"name": "grp"},
   "mark": {"type": "rule", "stroke": "#222", "strokeWidth": 1.3, "yOffset": 32.4},
   "encoding": {"x": {"field": "from", "type": "nominal", "bandPosition": 0}, "x2": {"field": "to", "bandPosition": 1}, "y": {"datum": 0, "type": "quantitative"}}},
  {"data": {"name": "grp"},
   "mark": {"type": "text", "fontSize": 11, "baseline": "middle", "align": "center", "xOffset": 25.9, "yOffset": 45},
   "encoding": {"x": {"field": "from", "type": "nominal"}, "y": {"datum": 0, "type": "quantitative"}, "text": {"field": "sex"}}},
  {"data": {"name": "labels"}, "transform": [{"filter": "datum.p == 'D'"}],
   "mark": {"type": "text", "fontSize": 17, "fontWeight": "bold", "baseline": "middle", "align": "center", "xOffset": -91.5, "yOffset": -29.7},
   "encoding": {"x": {"datum": "M-Chow", "type": "nominal"}, "y": {"datum": 0.12, "type": "quantitative"}, "text": {"field": "letter"}}},
  {"data": {"name": "labels"}, "transform": [{"filter": "datum.p == 'D'"}],
   "mark": {"type": "text", "fontSize": 12.5, "baseline": "middle", "align": "center", "xOffset": 86.5, "yOffset": -20.7},
   "encoding": {"x": {"datum": "M-Chow", "type": "nominal"}, "y": {"datum": 0.12, "type": "quantitative"}, "text": {"field": "organ"}}},
  {"data": {"name": "labels"}, "transform": [{"filter": "datum.p == 'D'"}],
   "mark": {"type": "text", "fontSize": 10.8, "angle": 270, "baseline": "middle", "align": "left", "xOffset": -80.8, "yOffset": 54.6, "text": "Relative"},
   "encoding": {"x": {"datum": "M-Chow", "type": "nominal"}, "y": {"datum": 0.06, "type": "quantitative"}}},
  {"data": {"name": "labels"}, "transform": [{"filter": "datum.p == 'D'"}],
   "mark": {"type": "text", "fontSize": 10.8, "fontStyle": "italic", "angle": 270, "baseline": "middle", "align": "left", "xOffset": -80.8, "yOffset": 12.6},
   "encoding": {"x": {"datum": "M-Chow", "type": "nominal"}, "y": {"datum": 0.06, "type": "quantitative"}, "text": {"field": "gene"}}},
  {"data": {"name": "labels"}, "transform": [{"filter": "datum.p == 'D'"}],
   "mark": {"type": "text", "fontSize": 10.8, "angle": 270, "baseline": "middle", "align": "left", "xOffset": -80.8, "yOffset": -32.4, "text": "level"},
   "encoding": {"x": {"datum": "M-Chow", "type": "nominal"}, "y": {"datum": 0.06, "type": "quantitative"}}}
 ]
},
{
 "width": 225, "height": 207,
 "resolve": {"scale": {"xOffset": "independent"}},
 "layer": [
  {"data": {"name": "sum"}, "transform": [{"filter": "datum.p == 'E'"}],
   "mark": {"type": "bar", "stroke": "#222", "strokeWidth": 1.4},
   "encoding": {
     "x": {"field": "g", "type": "nominal", "scale": {"domain": ["M-Chow","M-HFD","F-Chow","F-HFD"], "paddingInner": 0.353, "paddingOuter": 0.356}, "axis": {"title": null, "labelPadding": 11}},
     "y": {"field": "mean", "type": "quantitative", "scale": {"domain": [0, 0.15], "nice": false}, "axis": {"title": null, "values": [0, 0.05, 0.1, 0.15], "format": ".2f"}},
     "fill": {"field": "g", "type": "nominal", "scale": {"domain": ["M-Chow","M-HFD","F-Chow","F-HFD"], "range": ["#ffffff","#fddfc1","#ffffff","#dcefd4"]}, "legend": null}
   }},
  {"data": {"name": "pts"}, "transform": [{"filter": "datum.p == 'E'"}],
   "mark": {"type": "point", "shape": "circle", "filled": true, "fill": "#ffffff", "stroke": "#111", "strokeWidth": 1.4, "size": 20, "opacity": 1},
   "encoding": {"x": {"field": "g", "type": "nominal"}, "xOffset": {"field": "s", "type": "quantitative", "scale": {"domain": [-3.3, 3.3]}}, "y": {"field": "v", "type": "quantitative"}}},
  {"data": {"name": "sum"}, "transform": [{"filter": "datum.p == 'E'"}],
   "mark": {"type": "rule", "stroke": "#222", "strokeWidth": 1.4},
   "encoding": {"x": {"field": "g", "type": "nominal"}, "y": {"field": "lo", "type": "quantitative"}, "y2": {"field": "hi"}}},
  {"data": {"name": "sum"}, "transform": [{"filter": "datum.p == 'E'"}],
   "mark": {"type": "tick", "color": "#222", "size": 20, "thickness": 1.4},
   "encoding": {"x": {"field": "g", "type": "nominal"}, "y": {"field": "hi", "type": "quantitative"}}},
  {"data": {"name": "sum"}, "transform": [{"filter": "datum.p == 'E'"}],
   "mark": {"type": "tick", "color": "#222", "size": 20, "thickness": 1.4},
   "encoding": {"x": {"field": "g", "type": "nominal"}, "y": {"field": "lo", "type": "quantitative"}}},
  {"data": {"name": "br"}, "transform": [{"filter": "datum.p == 'E'"}],
   "mark": {"type": "rule", "stroke": "#222", "strokeWidth": 1.3},
   "encoding": {"x": {"field": "from", "type": "nominal"}, "x2": {"field": "to"}, "y": {"field": "y", "type": "quantitative"}}},
  {"data": {"name": "br"}, "transform": [{"filter": "datum.p == 'E'"}],
   "mark": {"type": "rule", "stroke": "#222", "strokeWidth": 1.3, "y2Offset": 6},
   "encoding": {"x": {"field": "from", "type": "nominal"}, "y": {"field": "y", "type": "quantitative"}, "y2": {"field": "y"}}},
  {"data": {"name": "br"}, "transform": [{"filter": "datum.p == 'E'"}],
   "mark": {"type": "rule", "stroke": "#222", "strokeWidth": 1.3, "y2Offset": 6},
   "encoding": {"x": {"field": "to", "type": "nominal"}, "y": {"field": "y", "type": "quantitative"}, "y2": {"field": "y"}}},
  {"data": {"name": "br"}, "transform": [{"filter": "datum.p == 'E'"}],
   "mark": {"type": "text", "fontSize": 17, "baseline": "alphabetic", "align": "center", "yOffset": -1.5},
   "encoding": {"x": {"field": "from", "type": "nominal"}, "xOffset": {"field": "span", "type": "quantitative", "scale": {"domain": [0, 3], "range": [16.7, 94.1]}}, "y": {"field": "y", "type": "quantitative"}, "text": {"field": "lab"}}},
  {"data": {"name": "grp"},
   "mark": {"type": "rule", "stroke": "#222", "strokeWidth": 1.3, "yOffset": 34},
   "encoding": {"x": {"field": "from", "type": "nominal", "bandPosition": 0}, "x2": {"field": "to", "bandPosition": 1}, "y": {"datum": 0, "type": "quantitative"}}},
  {"data": {"name": "grp"},
   "mark": {"type": "text", "fontSize": 11, "baseline": "middle", "align": "center", "xOffset": 25.8, "yOffset": 46.5},
   "encoding": {"x": {"field": "from", "type": "nominal"}, "y": {"datum": 0, "type": "quantitative"}, "text": {"field": "sex"}}},
  {"data": {"name": "labels"}, "transform": [{"filter": "datum.p == 'E'"}],
   "mark": {"type": "text", "fontSize": 17, "fontWeight": "bold", "baseline": "middle", "align": "center", "xOffset": -80, "yOffset": -31.3},
   "encoding": {"x": {"datum": "M-Chow", "type": "nominal"}, "y": {"datum": 0.15, "type": "quantitative"}, "text": {"field": "letter"}}},
  {"data": {"name": "labels"}, "transform": [{"filter": "datum.p == 'E'"}],
   "mark": {"type": "text", "fontSize": 12.5, "baseline": "middle", "align": "center", "xOffset": 104.2, "yOffset": -25.6},
   "encoding": {"x": {"datum": "M-Chow", "type": "nominal"}, "y": {"datum": 0.15, "type": "quantitative"}, "text": {"field": "organ"}}},
  {"data": {"name": "labels"}, "transform": [{"filter": "datum.p == 'E'"}],
   "mark": {"type": "text", "fontSize": 10.8, "angle": 270, "baseline": "middle", "align": "left", "xOffset": -76.8, "yOffset": 45.9, "text": "Relative"},
   "encoding": {"x": {"datum": "M-Chow", "type": "nominal"}, "y": {"datum": 0.075, "type": "quantitative"}}},
  {"data": {"name": "labels"}, "transform": [{"filter": "datum.p == 'E'"}],
   "mark": {"type": "text", "fontSize": 10.8, "fontStyle": "italic", "angle": 270, "baseline": "middle", "align": "left", "xOffset": -76.8, "yOffset": 3.9},
   "encoding": {"x": {"datum": "M-Chow", "type": "nominal"}, "y": {"datum": 0.075, "type": "quantitative"}, "text": {"field": "gene"}}},
  {"data": {"name": "labels"}, "transform": [{"filter": "datum.p == 'E'"}],
   "mark": {"type": "text", "fontSize": 10.8, "angle": 270, "baseline": "middle", "align": "left", "xOffset": -76.8, "yOffset": -23.7, "text": "level"},
   "encoding": {"x": {"datum": "M-Chow", "type": "nominal"}, "y": {"datum": 0.075, "type": "quantitative"}}}
 ]
},
{
 "width": 226, "height": 207,
 "resolve": {"scale": {"xOffset": "independent"}},
 "layer": [
  {"data": {"name": "sum"}, "transform": [{"filter": "datum.p == 'F'"}],
   "mark": {"type": "bar", "stroke": "#222", "strokeWidth": 1.4},
   "encoding": {
     "x": {"field": "g", "type": "nominal", "scale": {"domain": ["M-Chow","M-HFD","F-Chow","F-HFD"], "paddingInner": 0.353, "paddingOuter": 0.356}, "axis": {"title": null, "labelPadding": 7}},
     "y": {"field": "mean", "type": "quantitative", "scale": {"domain": [0, 0.025], "nice": false}, "axis": {"title": null, "values": [0, 0.005, 0.01, 0.015, 0.02, 0.025], "format": ".3f"}},
     "fill": {"field": "g", "type": "nominal", "scale": {"domain": ["M-Chow","M-HFD","F-Chow","F-HFD"], "range": ["#ffffff","#fddfc1","#ffffff","#dcefd4"]}, "legend": null}
   }},
  {"data": {"name": "pts"}, "transform": [{"filter": "datum.p == 'F'"}],
   "mark": {"type": "point", "shape": "circle", "filled": true, "fill": "#ffffff", "stroke": "#111", "strokeWidth": 1.4, "size": 20, "opacity": 1},
   "encoding": {"x": {"field": "g", "type": "nominal"}, "xOffset": {"field": "s", "type": "quantitative", "scale": {"domain": [-3.3, 3.3]}}, "y": {"field": "v", "type": "quantitative"}}},
  {"data": {"name": "sum"}, "transform": [{"filter": "datum.p == 'F'"}],
   "mark": {"type": "rule", "stroke": "#222", "strokeWidth": 1.4},
   "encoding": {"x": {"field": "g", "type": "nominal"}, "y": {"field": "lo", "type": "quantitative"}, "y2": {"field": "hi"}}},
  {"data": {"name": "sum"}, "transform": [{"filter": "datum.p == 'F'"}],
   "mark": {"type": "tick", "color": "#222", "size": 20, "thickness": 1.4},
   "encoding": {"x": {"field": "g", "type": "nominal"}, "y": {"field": "hi", "type": "quantitative"}}},
  {"data": {"name": "sum"}, "transform": [{"filter": "datum.p == 'F'"}],
   "mark": {"type": "tick", "color": "#222", "size": 20, "thickness": 1.4},
   "encoding": {"x": {"field": "g", "type": "nominal"}, "y": {"field": "lo", "type": "quantitative"}}},
  {"data": {"name": "grp"},
   "mark": {"type": "rule", "stroke": "#222", "strokeWidth": 1.3, "yOffset": 31},
   "encoding": {"x": {"field": "from", "type": "nominal", "bandPosition": 0}, "x2": {"field": "to", "bandPosition": 1}, "y": {"datum": 0, "type": "quantitative"}}},
  {"data": {"name": "grp"},
   "mark": {"type": "text", "fontSize": 11, "baseline": "middle", "align": "center", "xOffset": 25.9, "yOffset": 43.5},
   "encoding": {"x": {"field": "from", "type": "nominal"}, "y": {"datum": 0, "type": "quantitative"}, "text": {"field": "sex"}}},
  {"data": {"name": "labels"}, "transform": [{"filter": "datum.p == 'F'"}],
   "mark": {"type": "text", "fontSize": 17, "fontWeight": "bold", "baseline": "middle", "align": "center", "xOffset": -91.5, "yOffset": -26.3},
   "encoding": {"x": {"datum": "M-Chow", "type": "nominal"}, "y": {"datum": 0.025, "type": "quantitative"}, "text": {"field": "letter"}}},
  {"data": {"name": "labels"}, "transform": [{"filter": "datum.p == 'F'"}],
   "mark": {"type": "text", "fontSize": 12.5, "baseline": "middle", "align": "center", "xOffset": 84.2, "yOffset": -26.3},
   "encoding": {"x": {"datum": "M-Chow", "type": "nominal"}, "y": {"datum": 0.025, "type": "quantitative"}, "text": {"field": "organ"}}},
  {"data": {"name": "labels"}, "transform": [{"filter": "datum.p == 'F'"}],
   "mark": {"type": "text", "fontSize": 10.8, "angle": 270, "baseline": "middle", "align": "left", "xOffset": -84.2, "yOffset": 54.6, "text": "Relative"},
   "encoding": {"x": {"datum": "M-Chow", "type": "nominal"}, "y": {"datum": 0.0125, "type": "quantitative"}}},
  {"data": {"name": "labels"}, "transform": [{"filter": "datum.p == 'F'"}],
   "mark": {"type": "text", "fontSize": 10.8, "fontStyle": "italic", "angle": 270, "baseline": "middle", "align": "left", "xOffset": -84.2, "yOffset": 12.6},
   "encoding": {"x": {"datum": "M-Chow", "type": "nominal"}, "y": {"datum": 0.0125, "type": "quantitative"}, "text": {"field": "gene"}}},
  {"data": {"name": "labels"}, "transform": [{"filter": "datum.p == 'F'"}],
   "mark": {"type": "text", "fontSize": 10.8, "angle": 270, "baseline": "middle", "align": "left", "xOffset": -84.2, "yOffset": -32.4, "text": "level"},
   "encoding": {"x": {"datum": "M-Chow", "type": "nominal"}, "y": {"datum": 0.0125, "type": "quantitative"}}}
 ]
}
]
}
